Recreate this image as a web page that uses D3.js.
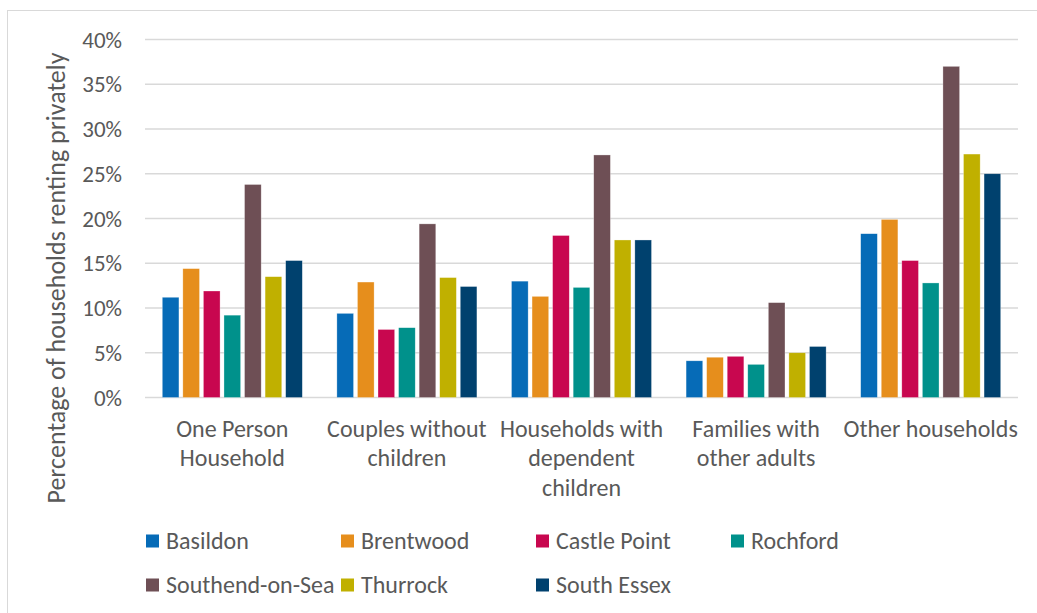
<!DOCTYPE html>
<html>
<head>
<meta charset="utf-8">
<script src="https://cdn.jsdelivr.net/npm/d3@7"></script>
<style>
    body { margin: 0; background: #fff; }
    svg { display: block; font-family: Carlito, Lato, sans-serif; }
</style>
</head>
<body>
<svg id="chart"></svg>
<script>
const categories = [
    "One Person\nHousehold",
    "Couples without\nchildren",
    "Households with\ndependent\nchildren",
    "Families with\nother adults",
    "Other households"
];

const series = ["Basildon", "Brentwood", "Castle Point", "Rochford", "Southend-on-Sea", "Thurrock", "South Essex"];
const colors = ["#066bb7", "#e68e1c", "#c8074f", "#00918b", "#6e4f55", "#c0b000", "#00416e"];

// percent values, one list per series, in category order
const basildon = [11.2, 9.4, 13.0, 4.1, 18.3];
const brentwood = [14.4, 12.9, 11.3, 4.5, 19.9];
const castlePoint = [11.9, 7.6, 18.1, 4.6, 15.3];
const rochford = [9.2, 7.8, 12.3, 3.7, 12.8];
const southend = [23.8, 19.4, 27.1, 10.6, 37.0];
const thurrock = [13.5, 13.4, 17.6, 5.0, 27.2];
const southEssex = [15.3, 12.4, 17.6, 5.7, 25.0];

const yTicks = [0, 5, 10, 15, 20, 25, 30, 35, 40];

const values = [basildon, brentwood, castlePoint, rochford, southend, thurrock, southEssex];
const rows = categories.map((c, ci) => ({
    category: c,
    bars: series.map((s, si) => ({ series: s, value: values[si][ci] }))
}));

const width = 1037;
const height = 613;
const textColor = "#595959";

const svg = d3.select("#chart")
    .attr("width", width)
    .attr("height", height);

// outer border
svg.append("rect")
    .attr("x", 7.5)
    .attr("y", 10.5)
    .attr("width", width)
    .attr("height", height)
    .attr("fill", "none")
    .attr("stroke", "#d9d9d9");

const x0 = d3.scaleBand()
    .domain(categories)
    .range([145, 1018])
    .paddingInner(0.198)
    .paddingOuter(0.099);

const x1 = d3.scaleBand()
    .domain(series)
    .range([0, x0.bandwidth()])
    .paddingInner(0.19);

const y = d3.scaleLinear()
    .domain([0, 40])
    .range([397.5, 39.5]);

const color = d3.scaleOrdinal(series, colors);

// gridlines
svg.append("g")
    .selectAll("line")
    .data(yTicks)
    .join("line")
    .attr("x1", 145)
    .attr("x2", 1018)
    .attr("y1", d => y(d))
    .attr("y2", d => y(d))
    .attr("stroke", "#d9d9d9")
    .attr("stroke-width", 1.5);

// y tick labels
svg.append("g")
    .selectAll("text")
    .data(yTicks)
    .join("text")
    .attr("x", 122)
    .attr("y", d => y(d))
    .attr("dy", "0.35em")
    .attr("text-anchor", "end")
    .attr("fill", textColor)
    .attr("font-size", 23)
    .text(d => d + "%");

// bars
const group = svg.append("g")
    .selectAll("g")
    .data(rows)
    .join("g")
    .attr("transform", d => `translate(${x0(d.category)},0)`);

group.selectAll("rect")
    .data(d => d.bars)
    .join("rect")
    .attr("x", d => x1(d.series))
    .attr("width", x1.bandwidth())
    .attr("y", d => y(d.value))
    .attr("height", d => y(0) - y(d.value))
    .attr("fill", d => color(d.series))
    .attr("stroke", "#fff")
    .attr("stroke-opacity", 0.5)
    .attr("stroke-width", 0.6);

// category labels
const catLabel = svg.append("g")
    .selectAll("text")
    .data(categories)
    .join("text")
    .attr("text-anchor", "middle")
    .attr("fill", textColor)
    .attr("font-size", 24);

catLabel.selectAll("tspan")
    .data(d => d.split("\n").map(line => ({ line, cx: x0(d) + x0.bandwidth() / 2 })))
    .join("tspan")
    .attr("x", d => d.cx)
    .attr("y", (d, i) => 437 + i * 29.3)
    .text(d => d.line);

// y axis title
svg.append("text")
    .attr("transform", "translate(65,278) rotate(-90)")
    .attr("text-anchor", "middle")
    .attr("fill", textColor)
    .attr("font-size", 26)
    .text("Percentage of households renting privately");

// legend
const legend = svg.append("g")
    .selectAll("g")
    .data(series)
    .join("g")
    .attr("transform", (d, i) => `translate(${166 + (i % 4) * 195},${541 + Math.floor(i / 4) * 44})`);

legend.append("rect")
    .attr("x", -20)
    .attr("y", -6.5)
    .attr("width", 13)
    .attr("height", 13)
    .attr("fill", d => color(d));

legend.append("text")
    .attr("dy", "0.35em")
    .attr("fill", textColor)
    .attr("font-size", 24)
    .text(d => d);
</script>
</body>
</html>
